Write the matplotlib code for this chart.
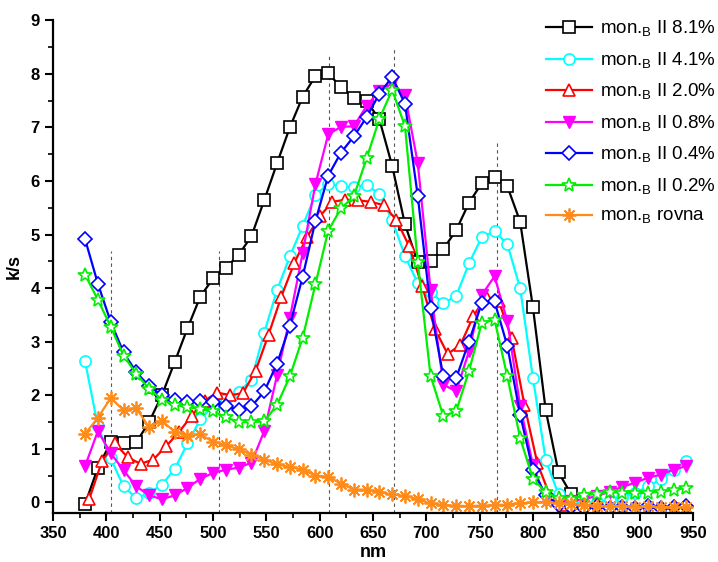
import numpy as np
import matplotlib
matplotlib.use("Agg")
import matplotlib.pyplot as plt
from matplotlib.ticker import MultipleLocator

plt.rcParams["font.family"] = ["Liberation Sans", "DejaVu Sans"]

# wavelengths (nm)
x_red = np.arange(384, 829, 12)
x_black = np.arange(380, 837, 12)
x_full = np.arange(380, 945, 12)

y_81 = [-0.03, 0.65, 1.12, 1.1, 1.12, 1.5, 2.0, 2.62, 3.25, 3.84,
        4.18, 4.38, 4.62, 4.97, 5.64, 6.33, 7.0, 7.57, 7.96, 8.01,
        7.75, 7.55, 7.49, 7.15, 6.28, 5.19, 4.48, 4.51, 4.73, 5.08,
        5.59, 5.96, 6.08, 5.9, 5.24, 3.64, 1.72, 0.56, 0.15]
y_41 = [2.63, 1.42, 0.82, 0.3, 0.08, 0.17, 0.33, 0.62, 1.1, 1.55,
        1.8, 1.93, 2.06, 2.29, 3.17, 3.96, 4.59, 5.16, 5.74, 5.94,
        5.91, 5.88, 5.93, 5.75, 5.27, 4.6, 4.09, 3.92, 3.72, 3.85,
        4.46, 4.95, 5.06, 4.82, 4.0, 2.32, 0.79, 0.15, 0.0, -0.02,
        0.0, 0.05, 0.1, 0.18, 0.3, 0.43, 0.61, 0.77]
y_20 = [0.07, 0.78, 1.1, 0.84, 0.72, 0.8, 1.05, 1.31, 1.62, 1.9,
        2.05, 2.0, 2.04, 2.46, 3.13, 3.84, 4.46, 4.95, 5.34, 5.61,
        5.65, 5.64, 5.61, 5.55, 5.27, 4.78, 4.04, 3.24, 2.77, 2.94,
        3.47, 3.85, 3.75, 3.07, 1.82, 0.74, 0.12, -0.05]
y_08 = [0.68, 1.33, 0.92, 0.6, 0.3, 0.13, 0.06, 0.13, 0.27, 0.44,
        0.55, 0.61, 0.65, 0.74, 1.33, 2.37, 3.44, 4.65, 5.94, 6.87,
        7.01, 7.02, 7.4, 7.68, 7.82, 7.6, 6.33, 3.97, 2.2, 2.07,
        2.82, 3.87, 4.22, 3.38, 1.8, 0.7, 0.05, -0.05, 0.02, 0.06,
        0.12, 0.2, 0.29, 0.37, 0.46, 0.52, 0.61, 0.68]
y_04 = [4.91, 4.08, 3.37, 2.8, 2.43, 2.17, 2.0, 1.92, 1.88, 1.89,
        1.87, 1.8, 1.72, 1.79, 2.07, 2.59, 3.3, 4.21, 5.25, 6.1,
        6.53, 6.83, 7.19, 7.63, 7.94, 7.44, 5.72, 3.63, 2.35, 2.32,
        3.0, 3.72, 3.75, 2.92, 1.64, 0.6, 0.14, -0.05, -0.08, -0.1,
        -0.06, -0.1, -0.08, -0.1, -0.07, -0.1, -0.08, -0.07]
y_02 = [4.25, 3.78, 3.28, 2.74, 2.4, 2.12, 1.92, 1.82, 1.78, 1.74,
        1.7, 1.59, 1.5, 1.5, 1.51, 1.82, 2.35, 3.07, 4.07, 5.07,
        5.49, 5.71, 6.42, 7.16, 7.7, 7.02, 4.48, 2.36, 1.61, 1.7,
        2.45, 3.35, 3.41, 2.35, 1.2, 0.44, 0.19, 0.08, 0.06, 0.13,
        0.16, 0.19, 0.18, 0.17, 0.18, 0.2, 0.23, 0.27]
y_rovna = [1.28, 1.58, 1.95, 1.72, 1.76, 1.4, 1.52, 1.32, 1.24, 1.27,
           1.13, 1.07, 0.99, 0.89, 0.8, 0.71, 0.66, 0.61, 0.5, 0.48,
           0.35, 0.24, 0.24, 0.19, 0.15, 0.12, 0.06, -0.02, -0.05, -0.06,
           -0.07, -0.06, -0.05, -0.04, -0.02, 0.0, 0.01, -0.02, -0.03, -0.05,
           -0.06, -0.07, -0.06, -0.08, -0.07, -0.09, -0.08, -0.09]

# dashed guide lines: position, top value
guides = [(404, 4.7), (506, 4.7), (609, 8.35), (670, 8.5), (766, 6.7)]

sub = r"mon.$_\mathregular{B}$"

fig = plt.figure(figsize=(7.18, 5.62), dpi=100)
ax = fig.add_axes([0.074, 0.087, 0.891, 0.877])

for gx, gtop in guides:
    ax.plot([gx, gx], [-0.2, gtop], color="#555555", lw=0.8, ls=(0, (3, 3)), zorder=1)

ms = 8
ax.plot(x_black, y_81, color="black", marker="s", ms=ms, mfc="white", mew=1.2, lw=1.6,
        label=sub + " II 8.1%")
ax.plot(x_full, y_41, color="cyan", marker="o", ms=ms, mfc="white", mew=1.2, lw=1.6,
        label=sub + " II 4.1%")
ax.plot(x_red, y_20, color="red", marker="^", ms=ms + 1, mfc="white", mew=1.2, lw=1.6,
        label=sub + " II 2.0%")
ax.plot(x_full, y_08, color="magenta", marker="v", ms=ms + 1, mfc="magenta", lw=1.6,
        label=sub + " II 0.8%")
ax.plot(x_full, y_04, color="blue", marker="D", ms=ms - 0.5, mfc="white", mew=1.2, lw=1.6,
        label=sub + " II 0.4%")
ax.plot(x_full, y_02, color="#00ee00", marker="*", ms=ms + 2, mfc="white", mew=1.2, lw=1.6,
        label=sub + " II 0.2%")
ax.plot(x_full, y_rovna, color="#ff8c1a", marker=(8, 2, 0), ms=ms + 2, mew=1.3, lw=1.6,
        label=sub + " rovna")

ax.set_xlim(350, 950)
ax.set_ylim(-0.2, 9)
ax.xaxis.set_major_locator(MultipleLocator(50))
ax.xaxis.set_minor_locator(MultipleLocator(25))
ax.yaxis.set_major_locator(MultipleLocator(1))
ax.yaxis.set_minor_locator(MultipleLocator(0.5))
ax.spines["top"].set_visible(False)
ax.spines["right"].set_visible(False)
ax.spines["left"].set_linewidth(1.6)
ax.spines["bottom"].set_linewidth(1.6)
ax.tick_params(which="major", direction="out", length=6, width=1.5, labelsize=12)
ax.tick_params(which="minor", direction="out", length=3.5, width=1.2)
for lab in ax.get_xticklabels() + ax.get_yticklabels():
    lab.set_fontweight("bold")

ax.set_xlabel("nm", fontsize=13, fontweight="bold", labelpad=2)
ax.set_ylabel("k/s", fontsize=13, fontweight="bold", labelpad=6)

fig.legend(loc="upper right", bbox_to_anchor=(1.015, 0.99), frameon=False, fontsize=13.5,
           handlelength=2.5, handletextpad=0.4, labelspacing=0.6, borderaxespad=0.3)

fig.savefig("out.png", dpi=100)
